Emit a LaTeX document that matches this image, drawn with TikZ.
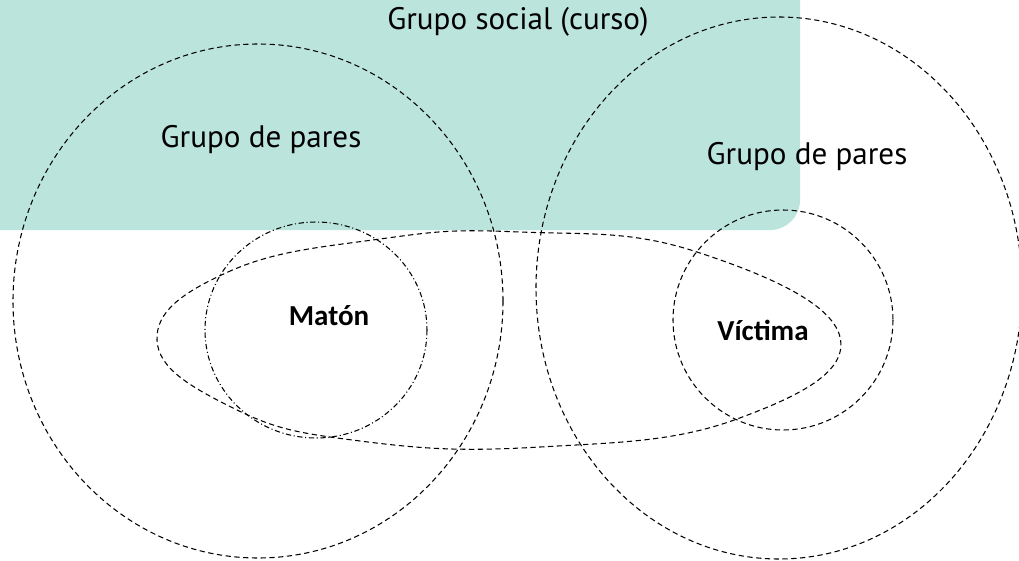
\documentclass[tikz,border=0pt]{standalone}
\usepackage{fontspec}
\setmainfont{PT Sans}
\newfontfamily\boldlabel{Carlito}[Ligatures=Common]
\usepackage{tikz}
\usetikzlibrary{positioning}
\definecolor{grupoteal}{RGB}{187,228,220}

\begin{document}
\begin{tikzpicture}[x=0.02cm, y=-0.02cm,
    borde/.style={line width=0.6pt, dash pattern=on 3pt off 2pt},
    bordepunto/.style={line width=0.6pt, dash pattern=on 3pt off 1.5pt on 0.6pt off 1.5pt},
    etiqueta/.style={font=\fontsize{17.7}{20}\selectfont},
    rol/.style={font=\boldlabel\bfseries\fontsize{16.5}{18}\selectfont}]
    \useasboundingbox (0,0) rectangle (1019,561);
    % Grupo social
    \fill[grupoteal, rounded corners=17pt] (-40,-40) rectangle (800,230);
    \node[etiqueta] (social) at (518,22) {Grupo social (curso)};

    % Grupos de pares
    \draw[borde] (258,301) ellipse [x radius=245, y radius=257];
    \draw[borde] (779,288) ellipse [x radius=243, y radius=271];
    \node[etiqueta] (paresizq) at (261,140) {Grupo de pares};
    \node[etiqueta] (paresder) at (807,157) {Grupo de pares};

    % Matón y víctima
    \draw[bordepunto] (316,330) ellipse [x radius=111, y radius=108];
    \draw[borde] (783,320) ellipse [x radius=110, y radius=110];
    \node[rol] (maton) at (329,316) {Matón};
    \node[rol] (victima) at (763,330) {Víctima};

    % Relación entre ambos
    \draw[borde] plot[smooth cycle, tension=0.75] coordinates {
        (157,340) (228,272) (380,239) (520,232) (697,252)
        (840,337) (737,419) (540,447) (360,441) (233,408)};
\end{tikzpicture}
\end{document}
